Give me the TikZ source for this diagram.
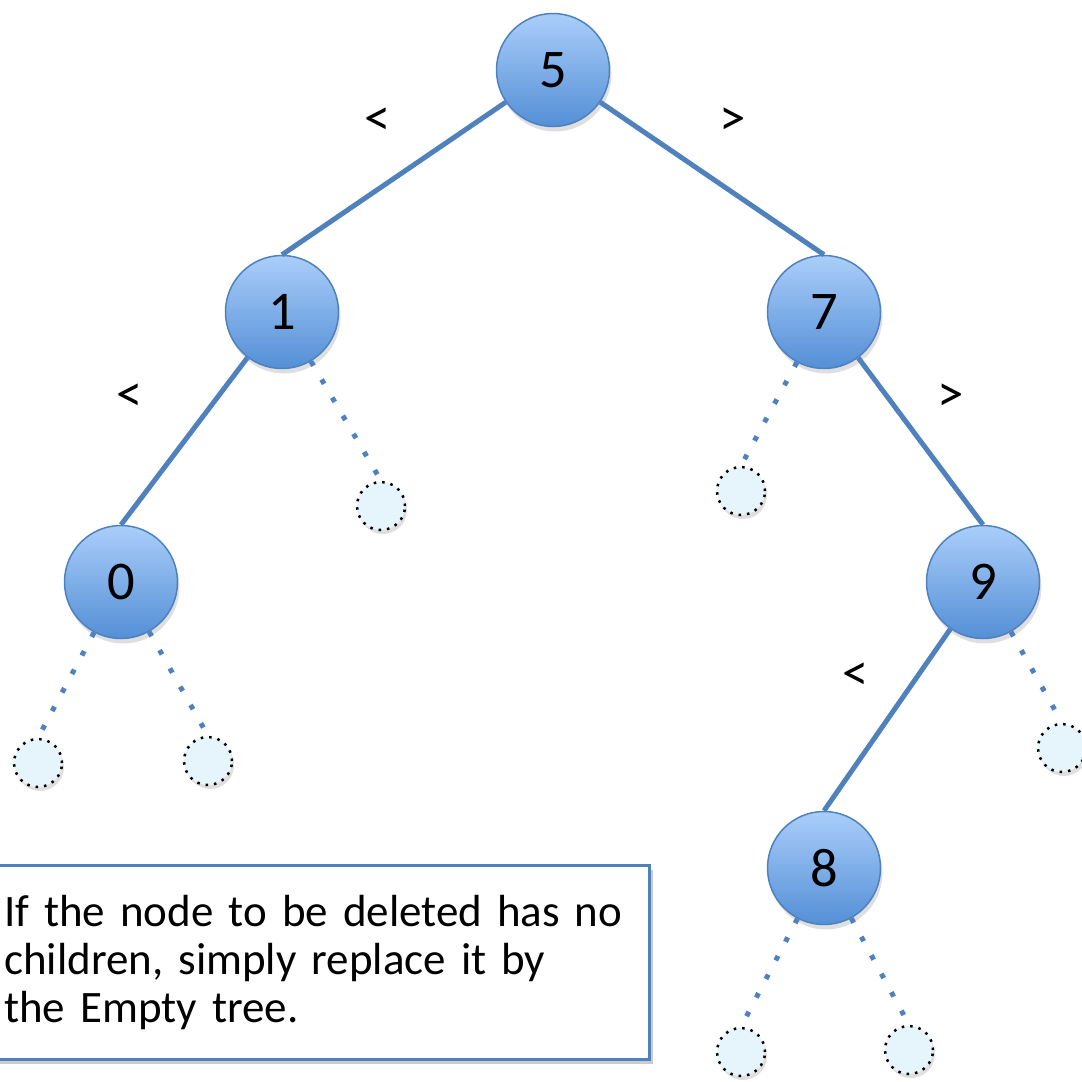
\documentclass[tikz,border=0pt]{standalone}
\usepackage{fontspec}
\setmainfont{Carlito}
\usetikzlibrary{shadows}
\definecolor{edgeblue}{RGB}{79,129,189}
\definecolor{nodetop}{RGB}{170,206,250}
\definecolor{nodebottom}{RGB}{84,143,214}
\definecolor{emptyfill}{RGB}{230,244,251}

\begin{document}
\begin{tikzpicture}
        \tikzset{vertex/.style = {shape=circle,draw=edgeblue,line width=0.15mm,top color=nodetop,bottom color=nodebottom,minimum size=11.3mm,inner sep=0pt,font=\fontsize{15.5}{18}\selectfont,drop shadow={shadow xshift=0.2mm,shadow yshift=-0.5mm,opacity=0.25}}}
        \tikzset{emptytree/.style = {shape=circle,draw=black,line width=0.25mm,dash pattern=on 0.25mm off 0.6mm,fill=emptyfill,minimum size=4.8mm,inner sep=0pt,drop shadow={shadow xshift=0.2mm,shadow yshift=-0.4mm,opacity=0.25}}}
        \tikzset{edge/.style = {draw=edgeblue,line width=0.5mm}}
        \tikzset{emptyedge/.style = {draw=edgeblue,line width=0.5mm,dash pattern=on 0.5mm off 1.6mm}}
        \tikzset{cmp/.style = {font=\fontsize{15}{17}\selectfont}}
        \tikzset{notebox/.style = {draw=edgeblue,line width=0.25mm,fill=white,anchor=north west,text width=63mm,inner xsep=1.5mm,minimum height=19.4mm,align=left,font=\fontsize{12.8}{13.7}\selectfont,drop shadow={shadow xshift=0.4mm,shadow yshift=-0.5mm,opacity=0.4}}}
        \useasboundingbox (0,0) rectangle (10.82,-10.82);
        % vertices
        \node[vertex] (5) at (5.53,-0.70) {5};
        \node[vertex] (1) at (2.82,-3.12) {1};
        \node[vertex] (7) at (8.24,-3.12) {7};
        \node[vertex] (0) at (1.21,-5.82) {0};
        \node[vertex] (9) at (9.83,-5.82) {9};
        \node[vertex] (8) at (8.24,-8.68) {8};
        % empty trees
        \node[emptytree] (e1) at (3.81,-5.06) {};
        \node[emptytree] (e7) at (7.41,-4.91) {};
        \node[emptytree] (e0l) at (0.38,-7.63) {};
        \node[emptytree] (e0r) at (2.08,-7.61) {};
        \node[emptytree] (e9) at (10.62,-7.48) {};
        \node[emptytree] (e8l) at (7.41,-10.52) {};
        \node[emptytree] (e8r) at (9.09,-10.50) {};
        %edges
        \draw[edge] (5) to (1.north);
        \draw[edge] (5) to (7.north);
        \draw[edge] (1) to (0.north);
        \draw[edge] (7) to (9.north);
        \draw[edge] (9) to (8.north);
        \draw[emptyedge] (1) to (e1.north);
        \draw[emptyedge] (7) to (e7.north);
        \draw[emptyedge] (0) to (e0l.north);
        \draw[emptyedge] (0) to (e0r.north);
        \draw[emptyedge] (9) to (e9.north);
        \draw[emptyedge] (8) to (e8l.north);
        \draw[emptyedge] (8) to (e8r.north);
        % labels
        \node[cmp] (l5) at (3.78,-1.22) {<};
        \node[cmp] (r5) at (7.33,-1.22) {>};
        \node[cmp] (l1) at (1.30,-3.98) {<};
        \node[cmp] (r7) at (9.51,-3.98) {>};
        \node[cmp] (l9) at (8.56,-6.77) {<};
        % note
        \node[notebox] (note) at (-0.12,-8.64) {If the node to be deleted has no\\children, simply replace it by\\the Empty tree.};
    \end{tikzpicture}
\end{document}
